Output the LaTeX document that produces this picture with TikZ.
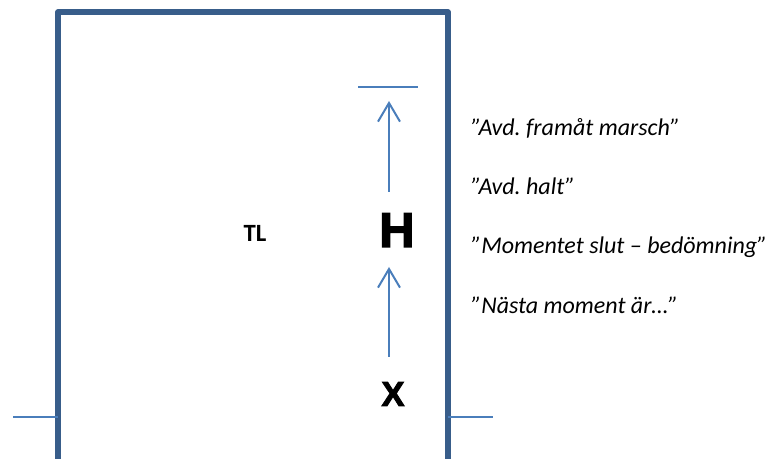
\documentclass[tikz,border=0pt]{standalone}
\usepackage{fontspec}
\setmainfont{Carlito}
\newfontfamily\heavyfont[BoldFeatures={FakeBold=2.5}]{Liberation Sans}
\usetikzlibrary{arrows.meta}
\definecolor{framecol}{HTML}{385D8A}
\definecolor{linecol}{HTML}{4A7EBB}
\frenchspacing
\tikzset{
  frameline/.style={draw=framecol, line width=3.9pt, line join=round},
  thinline/.style={draw=linecol, line width=1.5pt},
  uparrow/.style={thinline, -{Straight Barb[length=14pt, width=16.5pt, line width=1.5pt]}},
  callout/.style={anchor=base west, inner sep=0pt, font=\itshape\fontsize{18pt}{22pt}\selectfont},
  bigletter/.style={anchor=base, inner sep=0pt},
}
\begin{document}
\begin{tikzpicture}[x=0.75pt, y=-0.75pt]
\useasboundingbox (0,0) rectangle (769,459);
\begin{scope}
\clip (0,0) rectangle (769,459);
\draw[frameline] (58,475) -- (58,12) -- (448,12) -- (448,475);
\end{scope}
% side ticks
\coordinate (lt1) at (13,417);
\coordinate (lt2) at (58,417);
\coordinate (rt1) at (448,417);
\coordinate (rt2) at (493,417);
\draw[thinline] (lt1) -- (lt2);
\draw[thinline] (rt1) -- (rt2);
% stop line
\coordinate (sl1) at (358,87);
\coordinate (sl2) at (418,87);
\draw[thinline] (sl1) -- (sl2);
% letters
\node[bigletter, font=\heavyfont\bfseries\fontsize{36.7pt}{40pt}\selectfont] (H) at (397,247) {H};
\node[bigletter, font=\heavyfont\bfseries\fontsize{26pt}{30pt}\selectfont] (X) at (393,406) {X};
\node[bigletter, font=\bfseries\fontsize{18.6pt}{22pt}\selectfont] (TL) at (255,242) {TL};
% arrows
\coordinate (a1s) at (389,192);
\coordinate (a1e) at (389,101);
\coordinate (a2s) at (389,357);
\coordinate (a2e) at (389,267);
\draw[uparrow] (a1s) -- (a1e);
\draw[uparrow] (a2s) -- (a2e);
% callouts
\node[callout] (c1) at (471,136) {”Avd. framåt marsch”};
\node[callout] (c2) at (471,195) {”Avd. halt”};
\node[callout] (c3) at (471,254) {”Momentet slut – bedömning”};
\node[callout] (c4) at (471,314) {”Nästa moment är…”};
\end{tikzpicture}
\end{document}
